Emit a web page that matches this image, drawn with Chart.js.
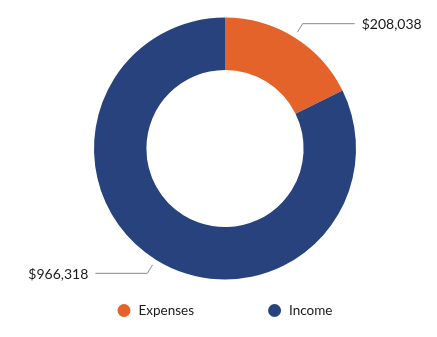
<!DOCTYPE html>
<html>
<head>
<meta charset="utf-8">
<script src="https://cdn.jsdelivr.net/npm/chart.js@4/dist/chart.umd.min.js"></script>
<style>
  html, body { margin: 0; padding: 0; background: #fff; }
</style>
</head>
<body>
<canvas id="donut" width="437" height="337"></canvas>
<script>
(function () {
    'use strict'

    const categories = ['Expenses', 'Income'];
    const amounts = [208038, 966318];
    const colours = ['#E4632B', '#27427C'];

    const money = v => '$' + v.toLocaleString('en-US');

    // label with a bent grey leader line next to each slice
    const leaderLines = {
        id: 'leaderLines',
        afterDatasetsDraw(chart) {
            const ctx = chart.ctx;
            const meta = chart.getDatasetMeta(0);
            ctx.save();
            ctx.font = '14px Lato';
            ctx.textBaseline = 'middle';
            meta.data.forEach((arc, i) => {
                const p = arc.getProps(['x', 'y', 'startAngle', 'endAngle', 'outerRadius'], true);
                const mid = (p.startAngle + p.endAngle) / 2;
                const c = Math.cos(mid), s = Math.sin(mid);
                const x1 = p.x + c * (p.outerRadius + 6), y1 = p.y + s * (p.outerRadius + 6);
                const x2 = p.x + c * (p.outerRadius + 16), y2 = p.y + s * (p.outerRadius + 16);
                const dir = c >= 0 ? 1 : -1;
                const x3 = x2 + dir * 52;
                ctx.strokeStyle = '#8a8a8a';
                ctx.lineWidth = 1;
                ctx.beginPath();
                ctx.moveTo(x1, y1);
                ctx.lineTo(x2, y2);
                ctx.lineTo(x3, y2);
                ctx.stroke();
                ctx.fillStyle = '#1a1a1a';
                ctx.textAlign = dir > 0 ? 'left' : 'right';
                ctx.fillText(money(amounts[i]), x3 + dir * 7, y2 + 1);
            });
            ctx.restore();
        }
    };

    // round dots legend, wide gap between items
    const dotLegend = {
        id: 'dotLegend',
        afterDraw(chart) {
            const ctx = chart.ctx;
            const area = chart.chartArea;
            const r = 6.5, textGap = 8, itemGap = 74;
            ctx.save();
            ctx.font = '13.5px Lato';
            ctx.textBaseline = 'middle';
            ctx.textAlign = 'left';
            const widths = categories.map(t => 2 * r + textGap + ctx.measureText(t).width);
            const total = widths.reduce((a, b) => a + b, 0) + itemGap * (widths.length - 1);
            let x = (area.left + area.right) / 2 - total / 2;
            const y = area.bottom + 31;
            categories.forEach((t, i) => {
                ctx.fillStyle = colours[i];
                ctx.beginPath();
                ctx.arc(x + r, y, r, 0, Math.PI * 2);
                ctx.fill();
                ctx.fillStyle = '#1a1a1a';
                ctx.fillText(t, x + 2 * r + textGap, y);
                x += widths[i] + itemGap;
            });
            ctx.restore();
        }
    };

    let ctx = document.getElementById('donut');
    new Chart(ctx, {
        type: 'doughnut',
        data: {
            labels: categories,
            datasets: [{
                data: amounts,
                backgroundColor: colours,
                borderWidth: 0
            }]
        },
        options: {
            responsive: false,
            animation: false,
            cutout: '60%',
            layout: {
                padding: { left: 94, right: 81, top: 17.5, bottom: 57.5 }
            },
            plugins: {
                legend: { display: false },
                tooltip: { enabled: false }
            }
        },
        plugins: [leaderLines, dotLegend]
    });
})()
</script>
</body>
</html>
